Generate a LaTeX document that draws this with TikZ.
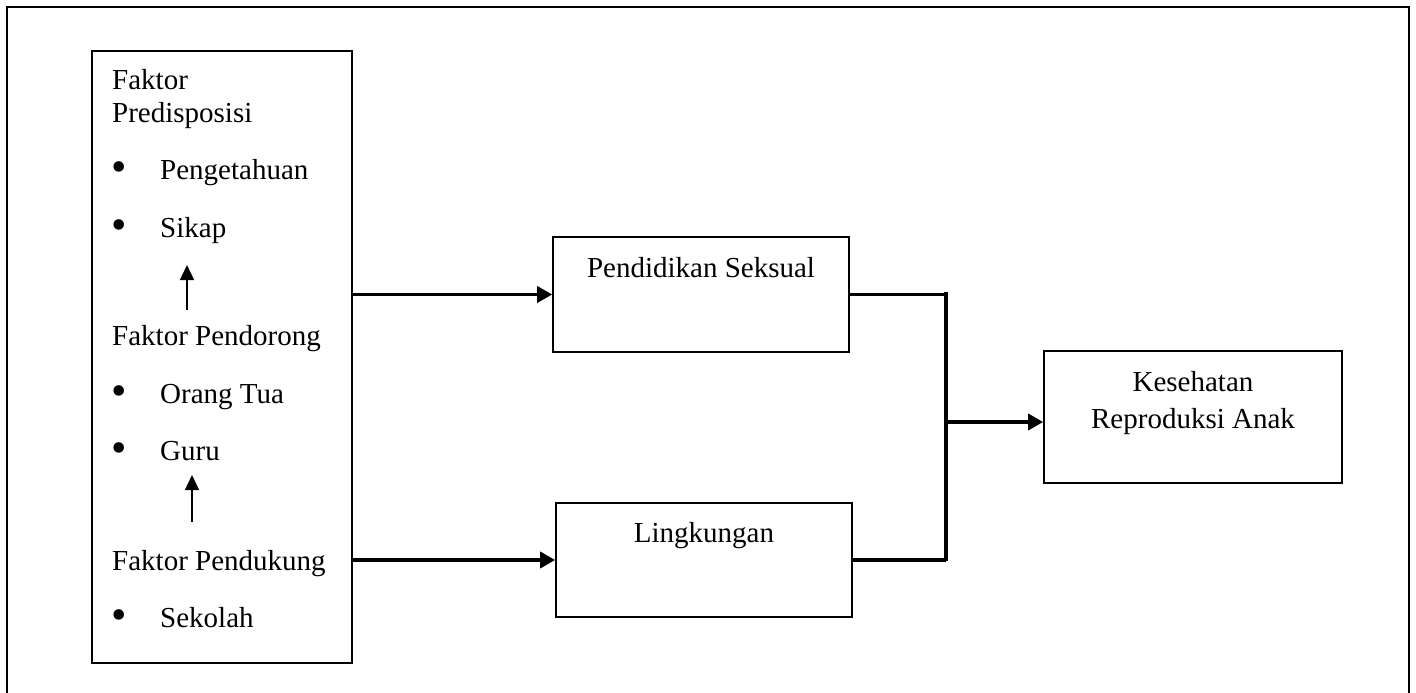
\documentclass[tikz,border=0pt]{standalone}
\usepackage{fontspec}
\setmainfont{Liberation Serif}
\usetikzlibrary{arrows.meta,positioning,calc}
\tikzset{
  kotak/.style={draw, line width=1.6pt, inner sep=0pt},
  teks/.style={font=\fontsize{29}{36}\selectfont, inner sep=0pt},
  titik/.style={font=\fontsize{44}{44}\selectfont, inner sep=0pt},
  panah/.style={line width=3.4pt, -{Triangle[length=15pt,width=16pt]}},
  garis/.style={line width=3.4pt},
  panahkecil/.style={line width=1.4pt, -{Triangle[length=15pt,width=14pt]}},
}

\begin{document}
\begin{tikzpicture}[x=1pt, y=-1pt]
\useasboundingbox (0,0) rectangle (1416,693);
% bingkai luar
\draw[line width=1.6pt] (7,693) -- (7,7) -- (1409,7) -- (1409,693);

% kotak faktor
\node[kotak, minimum width=260pt, minimum height=612pt] (faktor) at (222,357) {};
\node[teks, anchor=base west] (fpre) at (112,89) {Faktor};
\node[teks, anchor=base west] (fpre2) at (112,122) {Predisposisi};
\node[titik] (b1) at (119,172) {•};
\node[teks, anchor=base west] (peng) at (160,179) {Pengetahuan};
\node[titik] (b2) at (119,230) {•};
\node[teks, anchor=base west] (sikap) at (160,237) {Sikap};
\node[teks, anchor=base west] (fdorong) at (112,345) {Faktor Pendorong};
\node[titik] (b3) at (119,396) {•};
\node[teks, anchor=base west] (ortu) at (160,403) {Orang Tua};
\node[titik] (b4) at (119,453) {•};
\node[teks, anchor=base west] (guru) at (160,460) {Guru};
\node[teks, anchor=base west] (fdukung) at (112,570) {Faktor Pendukung};
\node[titik] (b5) at (119,620) {•};
\node[teks, anchor=base west] (sekolah) at (160,627) {Sekolah};

% panah kecil
\coordinate (a1) at (187,310);
\coordinate (a1t) at (187,265);
\coordinate (a2) at (192,522);
\coordinate (a2t) at (192,475);
\draw[panahkecil] (a1) -- (a1t);
\draw[panahkecil] (a2) -- (a2t);

% kotak tengah
\node[kotak, minimum width=296pt, minimum height=115pt] (pend) at (701,294.5) {};
\node[teks, anchor=base] (pendteks) at (701,277) {Pendidikan Seksual};
\node[kotak, minimum width=296pt, minimum height=114pt] (ling) at (704,560) {};
\node[teks, anchor=base] (lingteks) at (704,542) {Lingkungan};

% kotak kanan
\node[kotak, minimum width=298pt, minimum height=132pt] (kes) at (1193,417) {};
\node[teks, anchor=base] (kes1) at (1193,391) {Kesehatan};
\node[teks, anchor=base] (kes2) at (1193,428) {Reproduksi Anak};

% panah
\draw[panah] (faktor.east |- pend.west) -- (pend.west);
\draw[panah] (faktor.east |- ling.west) -- (ling.west);

\coordinate (jatas) at (946,292);
\coordinate (jbawah) at (946,561);
\coordinate (jtengah) at (946,422);
\draw[garis] (pend.east) -- (pend.east -| jatas);
\draw[garis] (ling.east) -- (ling.east -| jatas);
\draw[garis] (jatas) -- (jbawah);
\draw[panah] (jtengah) -- (kes.west |- jtengah);
\end{tikzpicture}
\end{document}
